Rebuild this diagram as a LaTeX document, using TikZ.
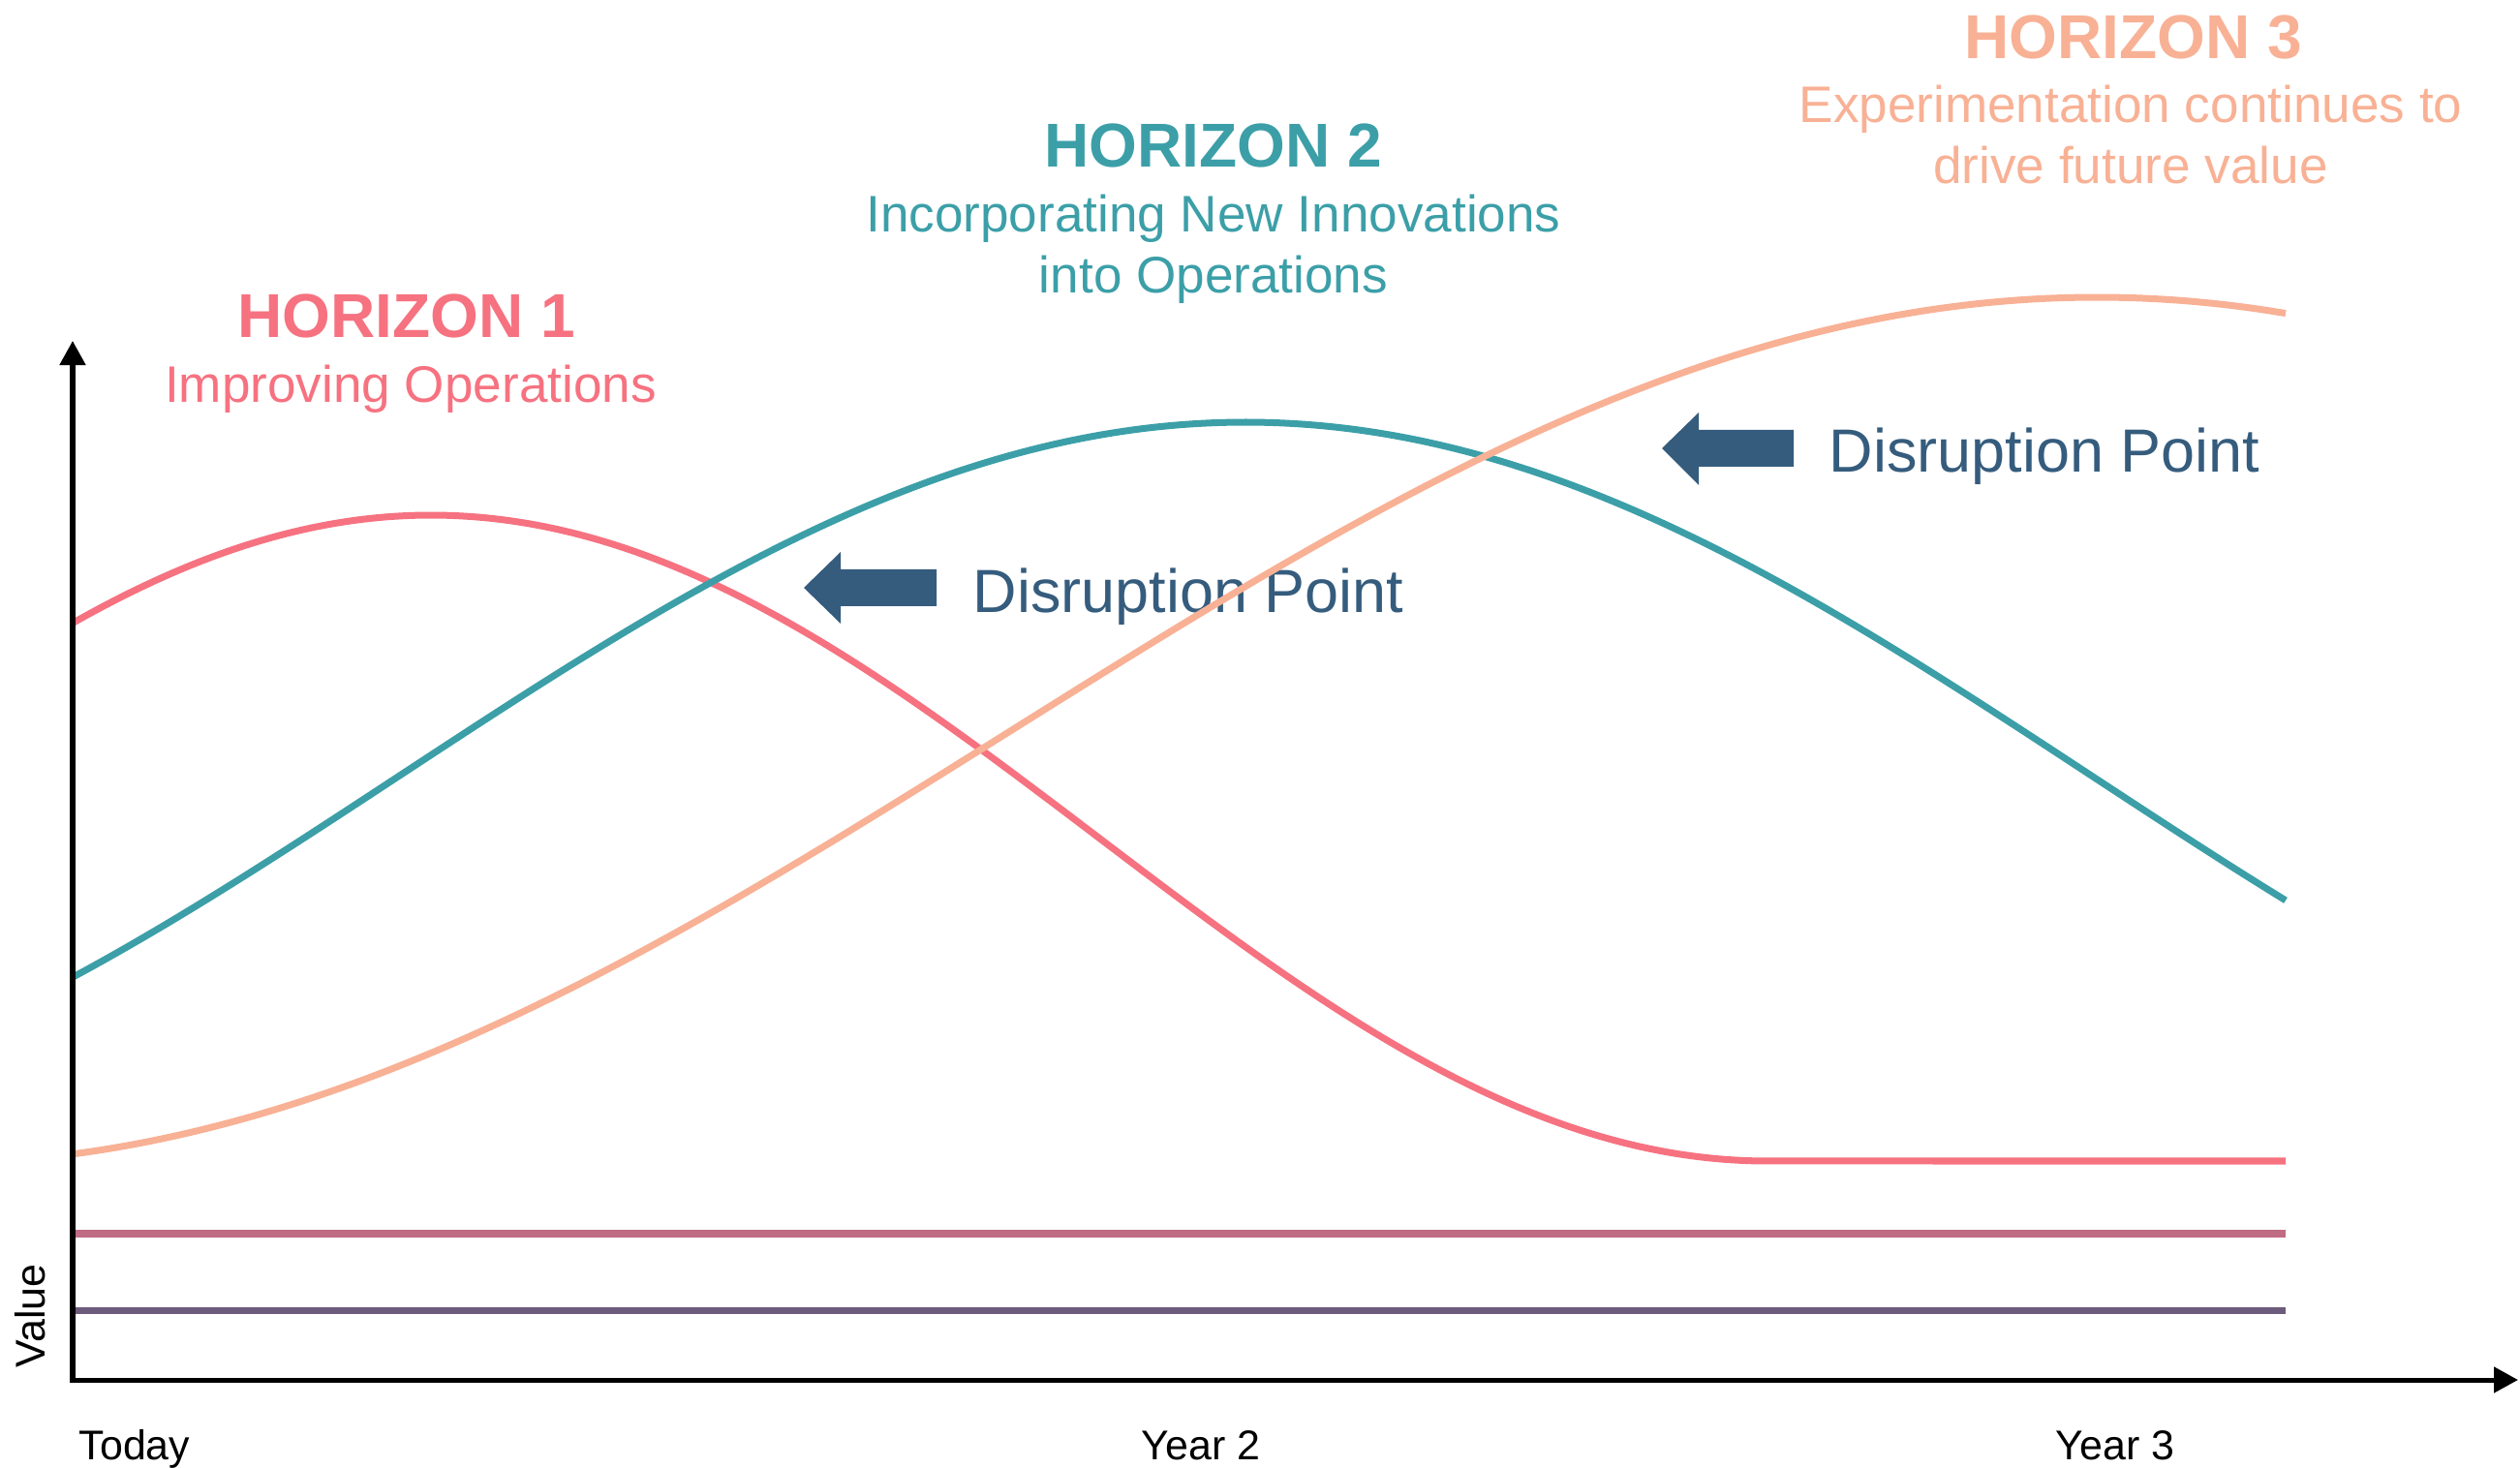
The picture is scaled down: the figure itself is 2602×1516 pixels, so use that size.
\documentclass[tikz,border=0pt]{standalone}
\usepackage{fontspec}
\setmainfont{Liberation Sans}
\usetikzlibrary{arrows.meta}
\definecolor{hone}{HTML}{F67280}
\definecolor{htwo}{HTML}{3C9FA8}
\definecolor{hthree}{HTML}{F8B195}
\definecolor{mauve}{HTML}{C06C84}
\definecolor{plum}{HTML}{6C5B7B}
\definecolor{navy}{HTML}{355C7D}
\tikzset{
  curve/.style={line width=0.07cm, line cap=butt},
  axisline/.style={line width=0.05cm, black},
  ttl/.style={inner sep=0, anchor=base, font=\fontsize{18.2pt}{21pt}\selectfont\bfseries},
  sub/.style={inner sep=0, anchor=base, font=\fontsize{15.1pt}{18pt}\selectfont},
  dptext/.style={inner sep=0, anchor=base west, text=navy, font=\fontsize{17.9pt}{21pt}\selectfont},
  ticklbl/.style={inner sep=0, anchor=base, font=\fontsize{12.2pt}{14pt}\selectfont},
}
\begin{document}
\begin{tikzpicture}[x=0.01cm, y=-0.01cm]
\useasboundingbox (0,0) rectangle (2602,1516);
% titles
\node[ttl, text=hone] (h1t) at (420,349) {HORIZON 1};
\node[sub, text=hone] (h1s) at (424,416) {Improving Operations};
\node[ttl, text=htwo] (h2t) at (1253,173) {HORIZON 2};
\node[sub, text=htwo] (h2s) at (1253,240) {Incorporating New Innovations};
\node[sub, text=htwo] (h2s2) at (1253,303) {into Operations};
\node[ttl, text=hthree] (h3t) at (2203,61) {HORIZON 3};
\node[sub, text=hthree] (h3s) at (2200,127) {Experimentation continues to};
\node[sub, text=hthree] (h3s2) at (2200,190) {drive future value};
% disruption points
\fill[navy] (830,607) -- (868,570) -- (868,588) -- (967,588) -- (967,626) -- (868,626) -- (868,644) -- cycle;
\node[dptext] (dp1) at (1004,633) {Disruption Point};
\fill[navy] (1716,463) -- (1754,426) -- (1754,444) -- (1852,444) -- (1852,482) -- (1754,482) -- (1754,501) -- cycle;
\node[dptext] (dp2) at (1888,488) {Disruption Point};
% flat lines
\draw[curve, mauve] (77,1274) -- (2360,1274);
\draw[curve, plum] (77,1353) -- (2360,1353);
% curves
\draw[curve, hone] plot[domain=75:1825, samples=120, smooth] (\x, {532+333.5*(1-cos(((\x-445)/1380)*180))}) -- (2360,1199);
\draw[curve, htwo] plot[domain=75:2360, samples=150, smooth] (\x, {436+365*(1-cos(0.10305*(\x-1286)))});
\draw[curve, hthree] plot[domain=75:2360, samples=150, smooth] (\x, {307+447.5*(1-cos(0.08027*(\x-2165)))});
% axes
\coordinate (origin) at (75,1425);
\coordinate (ytop) at (75,352);
\coordinate (xend) at (2600,1425);
\draw[axisline, -{Triangle[length=0.25cm, width=0.26cm]}] ([yshift=-0.025cm]origin) -- (ytop);
\draw[axisline, -{Triangle[length=0.25cm, width=0.26cm]}] ([xshift=-0.025cm]origin) -- (xend);
% axis labels
\node[ticklbl, rotate=90] (val) at (47,1359) {Value};
\node[ticklbl] (today) at (139,1507) {Today};
\node[ticklbl] (y2) at (1240,1507) {Year 2};
\node[ticklbl] (y3) at (2184,1507) {Year 3};
\end{tikzpicture}
\end{document}
